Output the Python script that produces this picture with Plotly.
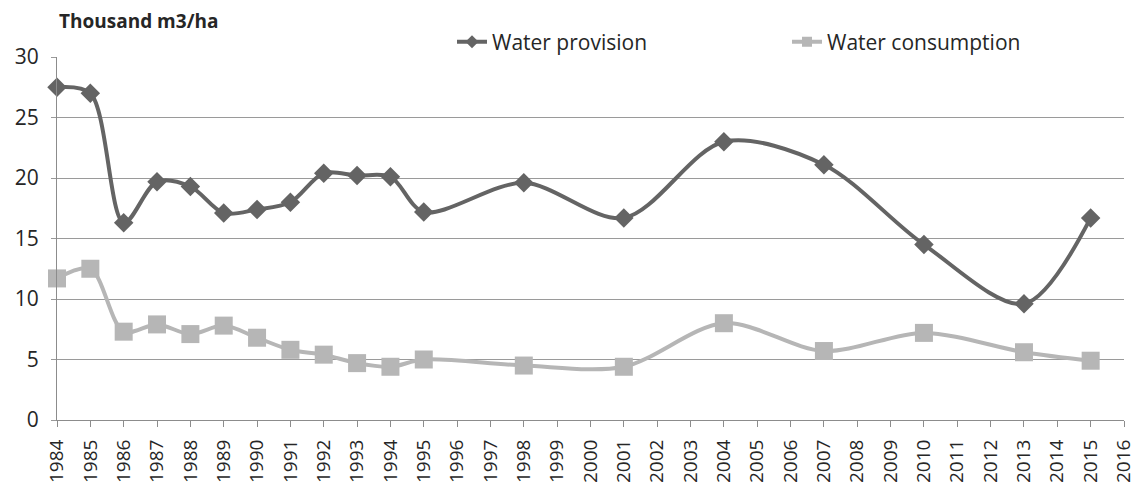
import plotly.graph_objects as go

# Irrigation water data, thousand m3 per hectare
years = [1984, 1985, 1986, 1987, 1988, 1989, 1990, 1991, 1992, 1993,
         1994, 1995, 1998, 2001, 2004, 2007, 2010, 2013, 2015]
water_provision = [27.5, 27.0, 16.3, 19.7, 19.3, 17.1, 17.4, 18.0, 20.4, 20.2,
                   20.1, 17.2, 19.6, 16.7, 23.0, 21.1, 14.5, 9.6, 16.7]
water_consumption = [11.7, 12.5, 7.3, 7.9, 7.1, 7.8, 6.8, 5.8, 5.4, 4.7,
                     4.4, 5.0, 4.5, 4.4, 8.0, 5.7, 7.2, 5.6, 4.9]
x_ticks = list(range(1984, 2017))
y_ticks = [0, 5, 10, 15, 20, 25, 30]

FONT = "Open Sans, Noto Sans, sans-serif"
TEXT = "#262626"
DARK = "#646464"
LIGHT = "#b6b6b6"

fig = go.Figure()
fig.add_trace(go.Scatter(
    x=years, y=water_provision, name="Water provision",
    mode="lines+markers", cliponaxis=False, showlegend=False,
    line=dict(color=DARK, width=4, shape="spline", smoothing=0.9),
    marker=dict(symbol="diamond", size=15, color=DARK),
))
fig.add_trace(go.Scatter(
    x=years, y=water_consumption, name="Water consumption",
    mode="lines+markers", cliponaxis=False, showlegend=False,
    line=dict(color=LIGHT, width=4, shape="spline", smoothing=0.9),
    marker=dict(symbol="square", size=18, color=LIGHT),
))
# Legend keys with smaller markers than the plotted points
for name, color, symbol in [("Water provision", DARK, "diamond"),
                            ("Water consumption", LIGHT, "square")]:
    fig.add_trace(go.Scatter(
        x=[None], y=[None], name=name, mode="lines+markers",
        line=dict(color=color, width=4),
        marker=dict(symbol=symbol, size=10, color=color),
    ))

fig.update_layout(
    width=1140, height=484,
    margin=dict(l=57, r=16, t=57, b=64, autoexpand=False),
    paper_bgcolor="white", plot_bgcolor="white",
    font=dict(family=FONT, color=TEXT),
    showlegend=True,
    legend=dict(
        orientation="h", xref="container", yref="container",
        x=452 / 1140, y=1 - 42 / 484, xanchor="left", yanchor="middle",
        font=dict(size=21, color=TEXT), itemwidth=30,
        entrywidth=290, bgcolor="rgba(0,0,0,0)",
    ),
    annotations=[dict(
        text="<b>Thousand m3/ha</b>", xref="paper", yref="paper",
        x=0, y=1.0, xanchor="left", yanchor="middle", yshift=36,
        showarrow=False, font=dict(size=19, color=TEXT, family=FONT),
    )],
)
fig.update_xaxes(
    range=[1984, 2016], tickmode="array", tickvals=x_ticks,
    ticktext=[str(v) for v in x_ticks], tickangle=-90,
    tickfont=dict(size=19, color=TEXT), ticks="outside", ticklen=6,
    ticklabelstandoff=5,
    tickcolor="#8c8c8c", showline=True, linecolor="#8c8c8c", linewidth=1,
    showgrid=False, zeroline=False,
)
fig.update_yaxes(
    range=[0, 30], tickmode="array", tickvals=y_ticks,
    tickfont=dict(size=21, color=TEXT), ticks="outside", ticklen=5,
    ticklabelstandoff=8,
    tickcolor="#9a9a9a", showline=True, linecolor="#8c8c8c", linewidth=1,
    showgrid=True, gridcolor="#9a9a9a", gridwidth=1, zeroline=False,
)

fig.write_html("out.html")
